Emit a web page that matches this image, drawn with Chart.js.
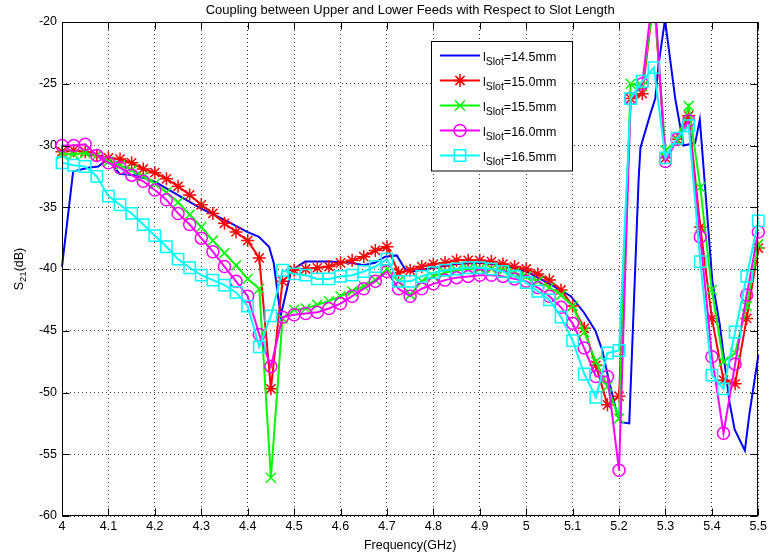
<!DOCTYPE html>
<html>
<head>
<meta charset="utf-8">
<script src="https://cdn.jsdelivr.net/npm/chart.js@4.4.1/dist/chart.umd.min.js"></script>
<style>
  html, body { margin: 0; padding: 0; background: #fff; }
</style>
</head>
<body>
<canvas id="s21Chart" width="770" height="554"></canvas>
<script>
// sweep frequencies (GHz) for the marked curves
const freqs = [
  4.000, 4.025, 4.050, 4.075, 4.100, 4.125, 4.150, 4.175, 4.200, 4.225,
  4.250, 4.275, 4.300, 4.325, 4.350, 4.375, 4.400, 4.425, 4.450, 4.475,
  4.500, 4.525, 4.550, 4.575, 4.600, 4.625, 4.650, 4.675, 4.700, 4.725,
  4.750, 4.775, 4.800, 4.825, 4.850, 4.875, 4.900, 4.925, 4.950, 4.975,
  5.000, 5.025, 5.050, 5.075, 5.100, 5.125, 5.150, 5.175, 5.200, 5.225,
  5.250, 5.275, 5.300, 5.325, 5.350, 5.375, 5.400, 5.425, 5.450, 5.475,
  5.500
];

// S21 (dB), l_slot = 15.0 mm
const s21_150 = [
  -30.5, -30.4, -30.5, -30.8, -31.0, -31.1, -31.4, -31.9, -32.2, -32.7,
  -33.3, -34.0, -34.8, -35.5, -36.3, -37.0, -37.7, -39.1, -49.7, -41.0,
  -40.1, -40.0, -39.9, -39.8, -39.5, -39.3, -39.0, -38.5, -38.2, -40.3,
  -40.1, -39.8, -39.6, -39.5, -39.3, -39.3, -39.3, -39.4, -39.6, -39.8,
  -40.0, -40.4, -40.9, -41.7, -43.0, -44.8, -47.8, -51.0, -50.3, -26.2,
  -25.8, -18.0, -31.0, -29.5, -27.6, -36.6, -44.0, -49.0, -49.3, -44.0,
  -38.3
];

// S21 (dB), l_slot = 15.5 mm
const s21_155 = [
  -30.7, -30.7, -30.6, -30.8, -31.3, -31.6, -32.0, -32.5, -33.1, -33.8,
  -34.6, -35.6, -36.6, -37.7, -38.7, -39.7, -40.8, -41.6, -56.9, -44.0,
  -43.3, -43.2, -42.9, -42.6, -42.2, -41.8, -41.4, -40.9, -40.0, -41.0,
  -42.1, -41.0, -40.6, -40.3, -40.1, -40.0, -40.0, -40.0, -40.1, -40.3,
  -40.6, -41.0, -41.5, -42.1, -43.0, -45.1, -47.5, -49.5, -52.1, -25.0,
  -25.2, -18.0, -30.4, -29.6, -26.8, -33.4, -41.7, -47.5, -46.8, -43.0,
  -38.0
];

// S21 (dB), l_slot = 16.0 mm
const s21_160 = [
  -30.0, -30.0, -29.9, -30.8, -31.4, -31.8, -32.4, -32.9, -33.6, -34.4,
  -35.5, -36.4, -37.5, -38.6, -39.8, -41.0, -42.2, -45.3, -47.9, -43.9,
  -43.7, -43.6, -43.5, -43.2, -42.8, -42.2, -41.6, -41.0, -40.2, -41.6,
  -42.2, -41.6, -41.2, -40.9, -40.7, -40.6, -40.5, -40.5, -40.6, -40.8,
  -41.0, -41.5, -42.2, -43.1, -44.4, -46.4, -48.7, -48.7, -56.3, -26.2,
  -25.0, -17.0, -31.3, -29.5, -28.0, -37.4, -47.1, -53.3, -47.7, -42.1,
  -37.0
];

// S21 (dB), l_slot = 16.5 mm
const s21_165 = [
  -31.4, -31.6, -31.7, -32.5, -34.1, -34.8, -35.5, -36.4, -37.3, -38.2,
  -39.2, -39.9, -40.5, -40.9, -41.3, -41.9, -43.0, -46.3, -43.8, -40.1,
  -40.4, -40.5, -40.8, -40.8, -40.6, -40.5, -40.2, -39.8, -39.2, -41.0,
  -41.0, -40.6, -40.3, -40.1, -40.0, -39.9, -39.9, -40.0, -40.2, -40.6,
  -41.1, -41.8, -42.5, -43.9, -45.8, -48.5, -50.4, -46.8, -46.6, -26.2,
  -24.8, -23.7, -31.0, -29.4, -28.4, -39.4, -48.6, -49.7, -45.1, -40.6,
  -36.1
];

// l_slot = 14.5 mm was sampled on its own frequency points
const freqs_145 = [
  4.000, 4.024, 4.056, 4.078, 4.092, 4.103, 4.124, 4.156, 4.199, 4.249,
  4.299, 4.349, 4.399, 4.424, 4.446, 4.456, 4.471, 4.492, 4.499, 4.524,
  4.574, 4.624, 4.649, 4.674, 4.696, 4.721, 4.739, 4.753, 4.800, 4.850,
  4.900, 4.950, 5.000, 5.030, 5.060, 5.096, 5.124, 5.149, 5.164, 5.178,
  5.196, 5.203, 5.222, 5.231, 5.242, 5.246, 5.267, 5.278, 5.285, 5.299,
  5.321, 5.339, 5.364, 5.374, 5.401, 5.417, 5.438, 5.449, 5.471, 5.481,
  5.500
];
const s21_145 = [
  -39.8, -32.1, -31.8, -31.7, -31.3, -31.3, -32.3, -32.4, -32.9, -34.0,
  -35.1, -36.0, -37.0, -37.4, -38.2, -39.5, -43.8, -40.4, -40.0, -39.4,
  -39.4, -39.5, -39.7, -39.5, -39.0, -38.9, -40.0, -40.2, -39.9, -39.6,
  -39.5, -39.7, -40.2, -40.8, -41.4, -42.2, -43.5, -45.0, -46.6, -49.0,
  -51.8, -52.4, -52.5, -43.7, -32.9, -30.2, -27.5, -26.2, -23.5, -19.8,
  -26.2, -30.0, -29.8, -27.9, -41.0, -44.5, -50.8, -53.0, -54.7, -51.7,
  -47.0
];

const slotLengths = ['14.5', '15.0', '15.5', '16.0', '16.5'];
const xTicks = [4, 4.1, 4.2, 4.3, 4.4, 4.5, 4.6, 4.7, 4.8, 4.9, 5, 5.1, 5.2, 5.3, 5.4, 5.5];
const xTickLabels = ['4', '4.1', '4.2', '4.3', '4.4', '4.5', '4.6', '4.7', '4.8', '4.9', '5', '5.1', '5.2', '5.3', '5.4', '5.5'];
const yTicks = [-60, -55, -50, -45, -40, -35, -30, -25, -20];

const FONT = '"Liberation Sans", Arial, Helvetica, sans-serif';

const pairs = (xs, ys) => xs.map((f, i) => ({ x: f, y: ys[i] }));

// marker / colour per curve, same order as slotLengths
const styles = [
  { color: '#0000ff', pointStyle: false, radius: 0 },
  { color: '#ff0000', pointStyle: 'star', radius: 6.5 },
  { color: '#00ff00', pointStyle: 'crossRot', radius: 7 },
  { color: '#ff00ff', pointStyle: 'circle', radius: 6 },
  { color: '#00ffff', pointStyle: 'rect', radius: 8 }
];
const curves = [
  pairs(freqs_145, s21_145),
  pairs(freqs, s21_150),
  pairs(freqs, s21_155),
  pairs(freqs, s21_160),
  pairs(freqs, s21_165)
];

const datasets = curves.map((pts, i) => ({
  label: 'l_Slot=' + slotLengths[i] + 'mm',
  data: pts,
  borderColor: styles[i].color,
  backgroundColor: 'rgba(0,0,0,0)',
  borderWidth: 2,
  pointStyle: styles[i].pointStyle,
  pointRadius: styles[i].radius,
  pointBorderWidth: 1.5,
  pointBorderColor: styles[i].color,
  pointBackgroundColor: 'rgba(0,0,0,0)',
  tension: 0,
  // later curves sit on top, like plot() with hold on
  order: curves.length - i,
  clip: { left: 10, right: 10, top: 0, bottom: 10 }
}));

// axes box, inward ticks, title, axis labels and the legend
const framePlugin = {
  id: 'frame',
  afterDraw(chart) {
    const { ctx, chartArea: a, scales: { x, y } } = chart;
    const L = Math.round(a.left) + 0.5, R = Math.round(a.right) - 0.5;
    const T = Math.round(a.top) + 0.5, B = Math.round(a.bottom) - 0.5;
    ctx.save();
    ctx.strokeStyle = '#000';
    ctx.lineWidth = 1;
    ctx.setLineDash([]);
    ctx.strokeRect(L, T, R - L, B - T);

    const tl = 7;
    ctx.beginPath();
    xTicks.forEach(v => {
      const px = Math.round(x.getPixelForValue(v)) + 0.5;
      ctx.moveTo(px, B); ctx.lineTo(px, B - tl);
      ctx.moveTo(px, T); ctx.lineTo(px, T + tl);
    });
    yTicks.forEach(v => {
      const py = Math.round(y.getPixelForValue(v)) + 0.5;
      ctx.moveTo(L, py); ctx.lineTo(L + tl, py);
      ctx.moveTo(R, py); ctx.lineTo(R - tl, py);
    });
    ctx.stroke();

    ctx.fillStyle = '#000';
    ctx.textBaseline = 'alphabetic';

    // title
    ctx.font = '13px ' + FONT;
    ctx.textAlign = 'center';
    ctx.fillText('Coupling between Upper and Lower Feeds with Respect to Slot Length', (a.left + a.right) / 2, 14);

    // x label
    ctx.font = '12.5px ' + FONT;
    ctx.fillText('Frequency(GHz)', (a.left + a.right) / 2, 549);

    // y label: S21(dB) with subscript, rotated
    ctx.save();
    ctx.translate(23, (a.top + a.bottom) / 2);
    ctx.rotate(-Math.PI / 2);
    ctx.textAlign = 'left';
    ctx.font = '12.5px ' + FONT;
    const wS = ctx.measureText('S').width;
    ctx.font = '9.5px ' + FONT;
    const w21 = ctx.measureText('21').width;
    ctx.font = '12.5px ' + FONT;
    const wdB = ctx.measureText('(dB)').width;
    let tx = -(wS + w21 + wdB) / 2;
    ctx.fillText('S', tx, 0);
    tx += wS;
    ctx.font = '9.5px ' + FONT;
    ctx.fillText('21', tx, 3);
    tx += w21;
    ctx.font = '12.5px ' + FONT;
    ctx.fillText('(dB)', tx, 0);
    ctx.restore();

    // legend
    const bx = 431.5, by = 41.5, bw = 141, bh = 129.5;
    ctx.fillStyle = '#fff';
    ctx.fillRect(bx, by, bw, bh);
    ctx.strokeStyle = '#000';
    ctx.lineWidth = 1;
    ctx.strokeRect(bx, by, bw, bh);
    ctx.textAlign = 'left';
    styles.forEach((s, i) => {
      const cy = 55.5 + i * 25;
      ctx.strokeStyle = s.color;
      ctx.lineWidth = 2;
      ctx.beginPath();
      ctx.moveTo(440, cy); ctx.lineTo(480, cy);
      ctx.stroke();
      if (s.pointStyle) {
        ctx.lineWidth = 1.5;
        ctx.fillStyle = 'rgba(0,0,0,0)';
        Chart.helpers.drawPoint(ctx, { pointStyle: s.pointStyle, radius: s.radius, rotation: 0, borderWidth: 1.5 }, 460, cy);
      }
      ctx.fillStyle = '#000';
      let lx = 483;
      ctx.font = '12.5px ' + FONT;
      ctx.fillText('l', lx, cy + 5);
      lx += ctx.measureText('l').width;
      ctx.font = '10.5px ' + FONT;
      ctx.fillText('Slot', lx, cy + 9);
      lx += ctx.measureText('Slot').width;
      ctx.font = '12.5px ' + FONT;
      ctx.fillText('=' + slotLengths[i] + 'mm', lx, cy + 5);
    });
    ctx.restore();
  }
};

new Chart(document.getElementById('s21Chart'), {
  type: 'line',
  data: { datasets },
  options: {
    responsive: false,
    animation: false,
    events: [],
    layout: { padding: { left: 0, right: 8, top: 22, bottom: 0 } },
    plugins: {
      legend: { display: false },
      tooltip: { enabled: false },
      title: { display: false }
    },
    scales: {
      x: {
        type: 'linear',
        min: 4,
        max: 5.5,
        afterBuildTicks: s => { s.ticks = xTicks.map(v => ({ value: v })); },
        afterFit: s => { s.height = 38; },
        ticks: {
          autoSkip: false,
          maxRotation: 0,
          padding: 3,
          color: '#000',
          font: { family: FONT, size: 12.5 },
          callback: (v, i) => xTickLabels[i]
        },
        grid: { color: 'rgba(0,0,0,0.75)', lineWidth: 1, drawTicks: false },
        border: { display: false, dash: [1, 3] }
      },
      y: {
        type: 'linear',
        min: -60,
        max: -20,
        afterBuildTicks: s => { s.ticks = yTicks.map(v => ({ value: v })); },
        afterFit: s => { s.width = 62; },
        ticks: {
          autoSkip: false,
          padding: 5,
          color: '#000',
          font: { family: FONT, size: 12.5 },
          callback: v => String(v)
        },
        grid: { color: 'rgba(0,0,0,0.75)', lineWidth: 1, drawTicks: false },
        border: { display: false, dash: [1, 3] }
      }
    }
  },
  plugins: [framePlugin]
});
</script>
</body>
</html>
